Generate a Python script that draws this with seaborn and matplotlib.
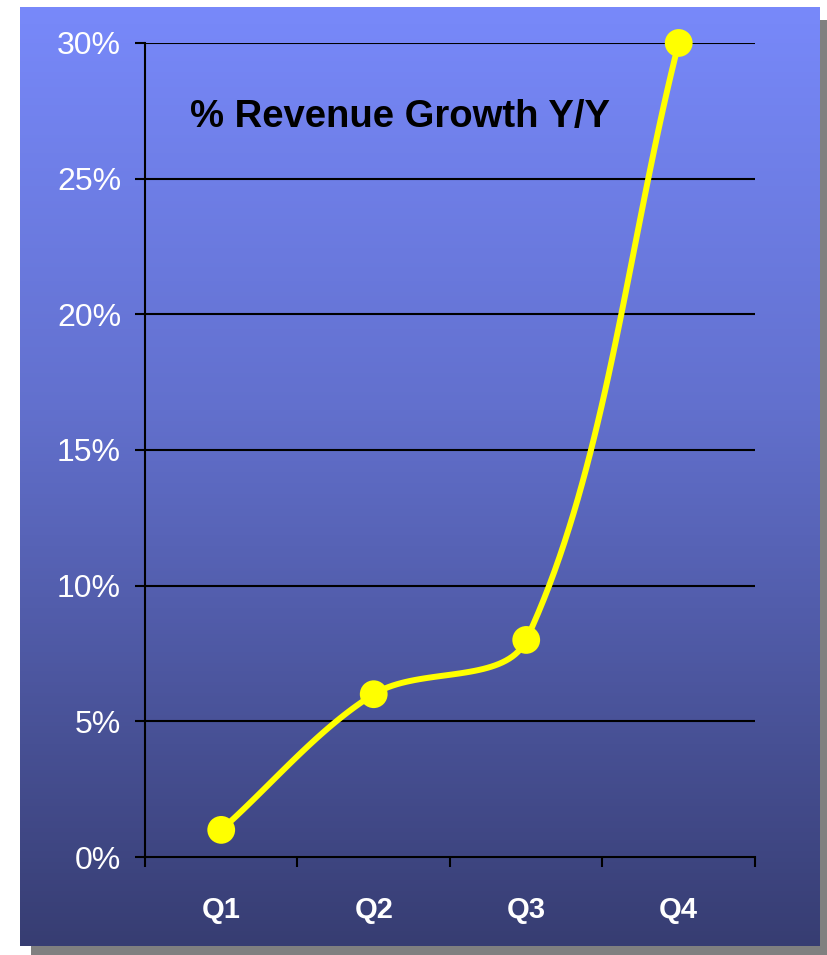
import numpy as np
import pandas as pd
import matplotlib
matplotlib.use('Agg')
import matplotlib.pyplot as plt
from matplotlib.colors import LinearSegmentedColormap
from matplotlib.patches import Rectangle
import seaborn as sns

# 数据
quarters = ['Q1', 'Q2', 'Q3', 'Q4']
growth = [0.01, 0.06, 0.08, 0.30]
y_ticks = [0.0, 0.05, 0.10, 0.15, 0.20, 0.25, 0.30]
y_labels = ['0%', '5%', '10%', '15%', '20%', '25%', '30%']
title = '% Revenue Growth Y/Y'

sns.set_theme(style='white')
plt.rcParams['font.family'] = ['Liberation Sans', 'DejaVu Sans']

# 绘图区像素尺寸 (用于平滑线的长度权重)
AX_W, AX_H = 610.0, 814.0


def smooth_line(xs, ys, xlim, ylim, n=40):
    """平滑线: Bezier, 控制柄按相邻线段长度缩放, 避免下凹"""
    pts = np.column_stack([xs, ys]).astype(float)
    sx = AX_W / (xlim[1] - xlim[0])
    sy = AX_H / (ylim[1] - ylim[0])
    scale = np.array([sx, sy])
    pix = pts * scale
    seg_len = np.linalg.norm(np.diff(pix, axis=0), axis=1)
    out = []
    for i in range(len(pts) - 1):
        p0 = pts[i - 1] if i > 0 else pts[i]
        p1, p2 = pts[i], pts[i + 1]
        p3 = pts[i + 2] if i + 2 < len(pts) else pts[i + 1]
        d01 = seg_len[i - 1] if i > 0 else 0.0
        d12 = seg_len[i]
        d23 = seg_len[i + 1] if i + 1 < len(seg_len) else 0.0
        f1 = 2 * d12 / (d01 + d12)
        f2 = 2 * d12 / (d12 + d23)
        c1 = p1 + (p2 - p0) / 6 * f1
        c2 = p2 - (p3 - p1) / 6 * f2
        t = np.linspace(0, 1, n)[:, None]
        seg = (1 - t) ** 3 * p1 + 3 * (1 - t) ** 2 * t * c1 + 3 * (1 - t) * t ** 2 * c2 + t ** 3 * p2
        out.append(seg if i == 0 else seg[1:])
    return np.vstack(out)


fig = plt.figure(figsize=(8.27, 9.55), dpi=100)
fig.patch.set_facecolor('white')

# 阴影
fig.patches.append(Rectangle((0.0375, 0.0), 0.97, 0.979, transform=fig.transFigure,
                             facecolor='#808080', edgecolor='none', zorder=0))

# 渐变背景
bg = fig.add_axes([0.0242, 0.0094, 0.9673, 0.9833], zorder=1)
cmap = LinearSegmentedColormap.from_list('bg', [(0, '#7889FA'), (0.43, '#6270CD'), (1, '#373D72')])
bg.imshow(np.linspace(0, 1, 256)[:, None], aspect='auto', cmap=cmap, extent=[0, 1, 0, 1])
bg.set_axis_off()

ax = fig.add_axes([0.1753, 0.1026, 0.7376, 0.8524], zorder=2)
ax.patch.set_alpha(0)

xlim = (-0.5, 3.5)
ylim = (0, 0.30)
xs = np.arange(len(quarters))
curve = smooth_line(xs, growth, xlim, ylim)
df_curve = pd.DataFrame({'x': curve[:, 0], 'y': curve[:, 1]})
df_pts = pd.DataFrame({'x': xs, 'y': growth})

for yv in y_ticks[1:]:
    ax.axhline(yv, color='black', lw=1.5, zorder=1)

sns.lineplot(data=df_curve, x='x', y='y', sort=False, color='#FFFF00', lw=4.3, ax=ax, zorder=3)
sns.scatterplot(data=df_pts, x='x', y='y', color='#FFFF00', s=400, edgecolor='none',
                ax=ax, zorder=4, clip_on=False)

ax.set_xlim(*xlim)
ax.set_ylim(*ylim)
ax.set_xlabel('')
ax.set_ylabel('')

for side in ['top', 'right']:
    ax.spines[side].set_visible(False)
for side in ['left', 'bottom']:
    ax.spines[side].set_color('black')
    ax.spines[side].set_linewidth(1.5)
    ax.spines[side].set_zorder(1)

ax.set_yticks(y_ticks)
ax.set_yticklabels(y_labels, color='white', fontsize=23)
ax.tick_params(axis='y', which='major', direction='out', length=7.2, width=1.5, color='black', pad=10, left=True)

ax.set_xticks(np.arange(len(quarters) + 1) - 0.5)
ax.set_xticklabels([])
ax.tick_params(axis='x', which='major', direction='out', length=7.2, width=1.5, color='black', bottom=True)
ax.set_xticks(xs, minor=True)
ax.set_xticklabels(quarters, minor=True, color='white', fontsize=21, fontweight='bold')
ax.tick_params(axis='x', which='minor', length=0, pad=28)

ax.text(0.074, 0.909, title, transform=ax.transAxes, ha='left', va='center',
        fontsize=27.5, fontweight='bold', color='black')

fig.savefig('out.png', dpi=100)
